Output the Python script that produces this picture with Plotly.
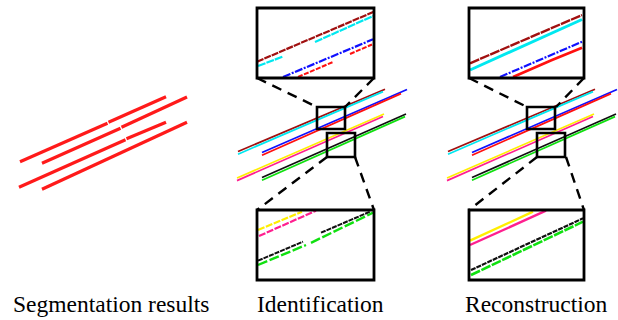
import plotly.graph_objects as go

# ---- Panel captions ----
captions = ["Segmentation results", "Identification", "Reconstruction"]
caption_x = [111, 320, 536]
caption_y = 304

# ---- Segmentation results: four red streaks (each as a few pieces) ----
seg_lines = [
    [(20, 161.7), (107.5, 123.3), None, (108.5, 122.3), (166, 96.7)],
    [(42, 163.3), (120.5, 128.3), None, (121.5, 127.3), (187, 97.0)],
    [(19, 187.3), (125.5, 139.8), None, (126.5, 138.8), (166, 122.3)],
    [(42, 189.3), (187, 122.3)],
]

# ---- Identification: main tracks (colour, start, end) ----
track_colors = ["#a01010", "#00e8f0", "#1010ff", "#ff1010",
                "#ffee00", "#ff1f8f", "#101010", "#10e010"]
track_start = [(238, 151.5), (238, 154.2), (262, 152.5), (262, 155.2),
               (237, 178.0), (237, 180.6), (262, 177.5), (262, 180.2)]
track_end = [(385, 89.3), (383, 91.6), (407, 89.5), (401, 93.6),
             (384, 114.0), (383, 116.5), (406, 114.0), (405, 116.6)]
panel_shift = 210  # Reconstruction panel sits to the right

# ---- Zoom frames: small windows and enlarged insets ----
small_boxes = [(317, 107, 345, 129), (327, 133, 355, 157)]
big_boxes = [(257, 8, 374, 78), (257, 210, 374, 280)]
big_boxes_r = [(469, 8, 584, 78), (469, 210, 584, 280)]
connectors = [
    [(257, 78), (317, 107)], [(374, 78), (345, 107)],
    [(327, 157), (257, 210)], [(355, 157), (374, 210)],
]
connectors_r = [
    [(469, 78), (527, 107)], [(584, 78), (556, 107)],
    [(537, 157), (469, 210)], [(566, 157), (584, 210)],
]

# ---- Inset contents: Identification (broken tracks) ----
inset_id = [
    ("#a01010", [(257, 61.7), (374, 11.7)], "7px,1px", 2.2),
    ("#00e8f0", [(258, 66), (283, 56.5), None, (315, 42), (373, 16)], "8px,1px", 2.2),
    ("#1010ff", [(283, 77), (373, 39.3)], "8px,1.5px,2px,1.5px", 2.2),
    ("#ff1010", [(298, 77), (333, 62), None, (350, 54), (372, 44.5)], "5px,1.5px", 2.0),
    ("#ffee00", [(258, 230), (302, 211.7)], "7px,1.5px", 2.2),
    ("#ff1f8f", [(259, 236), (316, 210.7)], "7px,1.5px", 2.2),
    ("#101010", [(258, 260.7), (303, 241.7), None, (321, 232.7), (370, 211.7)], "5px,1px", 2.0),
    ("#10e010", [(258, 265), (306, 245), None, (311, 242.8), (373, 212.7)], "10px,2.5px", 2.4),
]

# ---- Inset contents: Reconstruction (continuous tracks) ----
inset_rec = [
    ("#a01010", [(470, 63.3), (582, 15)], "10px,1px", 2.4),
    ("#00e8f0", [(470, 70), (582, 19.5)], "solid", 3.0),
    ("#1010ff", [(500, 77), (582, 41.7)], "8px,1.5px,2px,1.5px", 2.2),
    ("#ff1010", [(513, 77), (545, 62.5), (552, 60), (582, 47.7)], "solid", 2.6),
    ("#ffee00", [(470, 240.7), (533, 211.7)], "solid", 2.4),
    ("#ff1f8f", [(470, 245), (546, 210.7)], "solid", 2.4),
    ("#101010", [(471, 270), (583, 218.3)], "5px,1px", 2.2),
    ("#10e010", [(471, 275), (583, 221.7)], "10px,1.5px", 2.6),
]


def xy(points, dx=0):
    xs, ys = [], []
    for p in points:
        if p is None:
            xs.append(None)
            ys.append(None)
        else:
            xs.append(p[0] + dx)
            ys.append(p[1])
    return xs, ys


fig = go.Figure()

# Segmentation streaks
for pts in seg_lines:
    xs, ys = xy(pts)
    fig.add_trace(go.Scatter(x=xs, y=ys, mode="lines",
                             line=dict(color="#ff1a1a", width=3.2),
                             hoverinfo="skip", showlegend=False))

# Main tracks in both right-hand panels
for dx in (0, panel_shift):
    for c, s, e in zip(track_colors, track_start, track_end):
        fig.add_trace(go.Scatter(x=[s[0] + dx, e[0] + dx], y=[s[1], e[1]],
                                 mode="lines", line=dict(color=c, width=1.7),
                                 hoverinfo="skip", showlegend=False))

# Inset contents
for c, pts, dash, w in inset_id + inset_rec:
    xs, ys = xy(pts)
    fig.add_trace(go.Scatter(x=xs, y=ys, mode="lines",
                             line=dict(color=c, width=w, dash=dash),
                             hoverinfo="skip", showlegend=False))

# Frames
shapes = []
for dx, bigs, conns in ((0, big_boxes, connectors), (panel_shift, big_boxes_r, connectors_r)):
    for (x0, y0, x1, y1) in small_boxes:
        shapes.append(dict(type="rect", x0=x0 + dx, y0=y0, x1=x1 + dx, y1=y1,
                           line=dict(color="black", width=2.6)))
    for (x0, y0, x1, y1) in bigs:
        shapes.append(dict(type="rect", x0=x0, y0=y0, x1=x1, y1=y1,
                           line=dict(color="black", width=2.8)))
    for (a, b) in conns:
        shapes.append(dict(type="line", x0=a[0], y0=a[1], x1=b[0], y1=b[1],
                           line=dict(color="black", width=2.4, dash="10px,7px")))

annotations = [
    dict(x=cx, y=caption_y, text=t, showarrow=False, xanchor="center", yanchor="middle",
         font=dict(family="Liberation Serif, Times New Roman, serif", size=23.5, color="black"))
    for t, cx in zip(captions, caption_x)
]

fig.update_layout(
    width=618, height=320,
    margin=dict(l=0, r=0, t=0, b=0),
    paper_bgcolor="white", plot_bgcolor="white",
    xaxis=dict(range=[0, 618], visible=False, fixedrange=True),
    yaxis=dict(range=[320, 0], visible=False, fixedrange=True),
    shapes=shapes, annotations=annotations,
)

fig.write_html("out.html", config={"displayModeBar": False})
